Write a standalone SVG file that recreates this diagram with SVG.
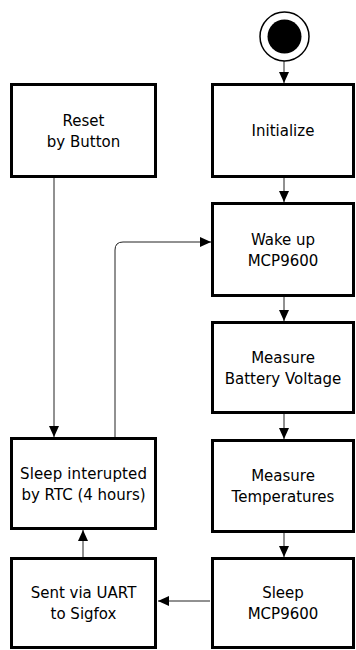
<svg xmlns="http://www.w3.org/2000/svg" width="356" height="650" viewBox="0 0 356 650">
<defs>
<marker id="arr" markerUnits="userSpaceOnUse" markerWidth="11" markerHeight="11" refX="11" refY="5" orient="auto"><path d="M0,0 L11,5 L0,10 z" fill="#000"/></marker>
<style>
.box{fill:#fff;stroke:#000;stroke-width:3}
.t{font-family:"DejaVu Sans",sans-serif;font-size:15px;fill:#000;text-anchor:middle}
.c{fill:none;stroke:#222;stroke-width:1;marker-end:url(#arr)}
</style>
</defs>
<rect width="356" height="650" fill="#fff"/>
<g id="connectors">
<path class="c" d="M284,61 V83"/>
<path class="c" d="M284,178 V202"/>
<path class="c" d="M284,297 V321"/>
<path class="c" d="M284,414 V439"/>
<path class="c" d="M284,533 V557"/>
<path class="c" d="M210,601 H158"/>
<path class="c" d="M83,557 V530"/>
<path class="c" d="M115,437 V250 Q115,242 123,242 H211"/>
<path class="c" d="M54,178 V437"/>
</g>
<g id="start">
<circle cx="284.5" cy="36.5" r="24.5" fill="#fff" stroke="#000" stroke-width="1.5"/>
<circle cx="284.5" cy="36.5" r="17" fill="#000"/>
</g>
<g id="initialize">
<rect class="box" x="212.5" y="84.5" width="141" height="92"/>
<text class="t" x="283" y="136">Initialize</text>
</g>
<g id="wakeup">
<rect class="box" x="212.5" y="203.5" width="141" height="92"/>
<text class="t" x="283" y="245">Wake up</text>
<text class="t" x="283" y="266">MCP9600</text>
</g>
<g id="battery">
<rect class="box" x="212.5" y="322.5" width="141" height="90"/>
<text class="t" x="283" y="363">Measure</text>
<text class="t" x="283" y="384">Battery Voltage</text>
</g>
<g id="temperatures">
<rect class="box" x="212.5" y="440.5" width="141" height="91"/>
<text class="t" x="283" y="481">Measure</text>
<text class="t" x="283" y="502">Temperatures</text>
</g>
<g id="sleepmcp">
<rect class="box" x="212.5" y="558.5" width="141" height="89"/>
<text class="t" x="283" y="598">Sleep</text>
<text class="t" x="283" y="619">MCP9600</text>
</g>
<g id="reset">
<rect class="box" x="11.5" y="84.5" width="144" height="92"/>
<text class="t" x="83.5" y="125.5">Reset</text>
<text class="t" x="83.5" y="146.5">by Button</text>
</g>
<g id="sleepint">
<rect class="box" x="11.5" y="438.5" width="144" height="90"/>
<text class="t" x="83.5" y="478.5" textLength="127" lengthAdjust="spacing">Sleep interupted</text>
<text class="t" x="83.5" y="499.5">by RTC (4 hours)</text>
</g>
<g id="sent">
<rect class="box" x="11.5" y="558.5" width="144" height="89"/>
<text class="t" x="83.5" y="598">Sent via UART</text>
<text class="t" x="83.5" y="619">to Sigfox</text>
</g>
</svg>
